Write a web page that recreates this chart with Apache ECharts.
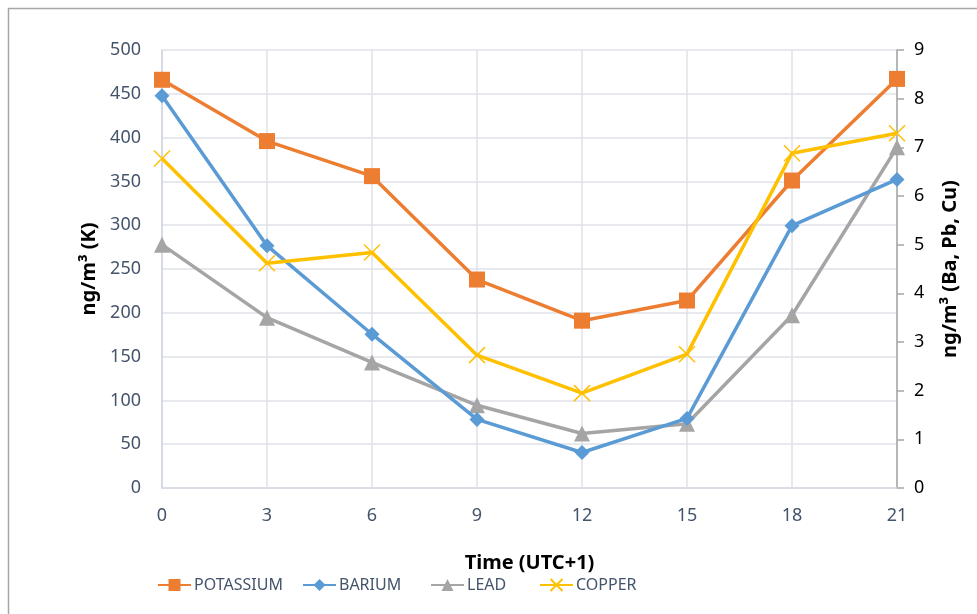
<!DOCTYPE html>
<html>
<head>
<meta charset="utf-8">
<script src="https://cdn.jsdelivr.net/npm/echarts@6/dist/echarts.min.js"></script>
<style>
html,body{margin:0;padding:0;background:#fff;}
#c{width:977px;height:614px;}
</style>
</head>
<body>
<div id="c"></div>
<script>
const hours = [0, 3, 6, 9, 12, 15, 18, 21];
const potassium = [466, 396, 356, 238, 191, 214, 351, 467];
const barium = [8.06, 4.98, 3.16, 1.41, 0.73, 1.43, 5.39, 6.34];
const lead = [5.0, 3.5, 2.58, 1.7, 1.12, 1.32, 3.55, 7.0];
const copper = [6.77, 4.62, 4.84, 2.73, 1.95, 2.75, 6.88, 7.29];
const seriesNames = ['POTASSIUM', 'BARIUM', 'LEAD', 'COPPER'];

const pairs = arr => hours.map((h, i) => [h, arr[i]]);
const FONT = 'Noto Sans';
const crossPath = 'path://M0,0L10,10M10,0L0,10';

const chart = echarts.init(document.getElementById('c'), null, {renderer: 'canvas'});
const legendPos = [157, 302, 430, 539];
chart.setOption({
  animation: false,
  backgroundColor: '#fff',
  graphic: [{
    type: 'rect', left: 6, top: 6,
    shape: {width: 1000, height: 700},
    style: {fill: 'none', stroke: '#a6a6a6', lineWidth: 1.5},
    silent: true, z: -10
  }],
  grid: {left: 162, right: 80, top: 50, bottom: 126},
  legend: seriesNames.map((n, i) => ({
    data: [n], left: legendPos[i], top: 577, padding: 0,
    itemWidth: 33, itemHeight: 15, itemGap: 4,
    textStyle: {fontFamily: FONT, fontSize: 16, color: '#44546a', padding: [0, 0, 0, -2]}
  })),
  xAxis: {
    type: 'value', min: 0, max: 21, interval: 3,
    name: 'Time (UTC+1)', nameLocation: 'middle', nameGap: 65,
    nameTextStyle: {fontFamily: FONT, fontSize: 20, fontWeight: 'bold', color: '#000'},
    axisLine: {show: true, lineStyle: {color: '#d6dbe3', width: 1.5}},
    axisTick: {show: false},
    axisLabel: {fontFamily: FONT, fontSize: 18, color: '#44546a', margin: 19},
    splitLine: {show: true, lineStyle: {color: '#dfe2e8', width: 1.5}}
  },
  yAxis: [{
    type: 'value', min: 0, max: 500, interval: 50, position: 'left',
    name: 'ng/m³ (K)', nameLocation: 'middle', nameRotate: 90, nameGap: 63,
    nameTextStyle: {fontFamily: FONT, fontSize: 20, fontWeight: 'bold', color: '#000'},
    axisLine: {show: true, lineStyle: {color: '#cfd5df', width: 1.5}},
    axisTick: {show: false},
    axisLabel: {fontFamily: FONT, fontSize: 18, color: '#44546a', margin: 21},
    splitLine: {show: true, lineStyle: {color: '#dfe2e8', width: 1.5}}
  }, {
    type: 'value', min: 0, max: 9, interval: 1, position: 'right',
    name: 'ng/m³ (Ba, Pb, Cu)', nameLocation: 'middle', nameRotate: 90, nameGap: 43,
    nameTextStyle: {fontFamily: FONT, fontSize: 20, fontWeight: 'bold', color: '#000'},
    axisLine: {show: true, lineStyle: {color: '#a6a6a6', width: 1.5}},
    axisTick: {show: true, inside: false, length: 7, lineStyle: {color: '#a6a6a6', width: 1.5}},
    axisLabel: {fontFamily: FONT, fontSize: 18, color: '#000', margin: 17},
    splitLine: {show: false}
  }],
  series: [{
    name: 'POTASSIUM', type: 'line', yAxisIndex: 0, data: pairs(potassium),
    symbol: 'rect', symbolSize: 16,
    lineStyle: {color: '#ED7D31', width: 3.5}, itemStyle: {color: '#ED7D31'}, z: 4
  }, {
    name: 'BARIUM', type: 'line', yAxisIndex: 1, data: pairs(barium),
    symbol: 'diamond', symbolSize: 15,
    lineStyle: {color: '#5B9BD5', width: 3.5}, itemStyle: {color: '#5B9BD5'}, z: 3
  }, {
    name: 'LEAD', type: 'line', yAxisIndex: 1, data: pairs(lead),
    symbol: 'triangle', symbolSize: 16,
    lineStyle: {color: '#A5A5A5', width: 3.5}, itemStyle: {color: '#A5A5A5'}, z: 2
  }, {
    name: 'COPPER', type: 'line', yAxisIndex: 1, data: pairs(copper),
    symbol: crossPath, symbolSize: 16,
    lineStyle: {color: '#FFC000', width: 3.5},
    itemStyle: {color: '#FFC000', borderColor: '#FFC000', borderWidth: 1.5}, z: 5
  }]
});
</script>
</body>
</html>
